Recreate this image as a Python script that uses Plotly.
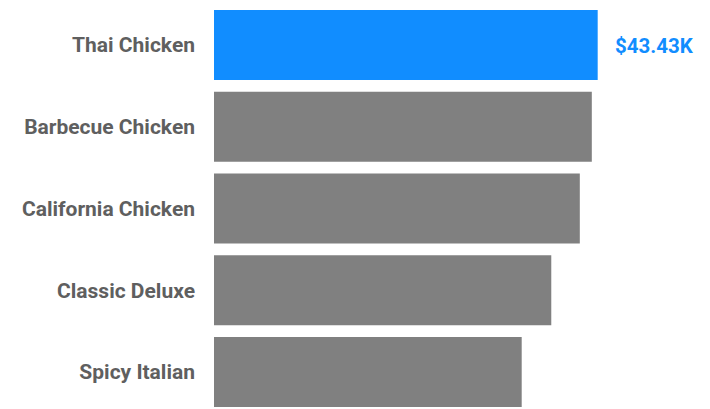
import plotly.graph_objects as go

categories = ["Thai Chicken", "Barbecue Chicken", "California Chicken", "Classic Deluxe", "Spicy Italian"]
revenue = [43434.25, 42768.0, 41409.5, 38180.5, 34831.25]
highlight = "Thai Chicken"

colors = ["#118DFF" if c == highlight else "#808080" for c in categories]

fig = go.Figure()
fig.add_trace(go.Bar(
    x=revenue, y=categories, orientation="h",
    marker=dict(color=colors, line=dict(width=0)),
    hoverinfo="skip",
))

for c, v in zip(categories, revenue):
    if c == highlight:
        fig.add_annotation(
            x=v, y=c, xref="x", yref="y",
            text=f"${v/1000:.2f}K", showarrow=False,
            xanchor="left", xshift=15, yshift=-1,
            font=dict(family="Roboto", size=20.5, color="#118DFF", weight="bold"),
        )

fig.update_layout(
    width=710, height=409,
    margin=dict(l=206, r=0, t=0, b=0),
    paper_bgcolor="white", plot_bgcolor="white",
    bargap=0.144,
    showlegend=False,
    xaxis=dict(range=[0, 57053], visible=False, showgrid=False, zeroline=False),
    yaxis=dict(
        type="category", categoryorder="array", categoryarray=categories,
        range=[4.5505, -0.4526], showgrid=False, zeroline=False, showline=False,
        ticks="", ticklabelstandoff=18,
        tickfont=dict(family="Roboto", size=21, color="#5F5F5F", weight="bold"),
    ),
)

fig.write_html("out.html")
